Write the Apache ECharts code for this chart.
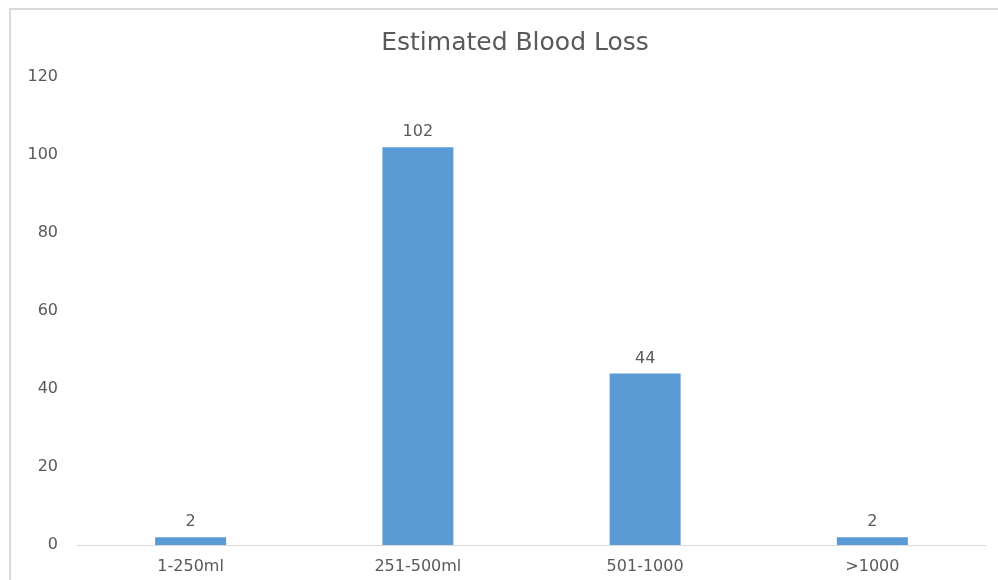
<!DOCTYPE html>
<html>
<head>
<meta charset="utf-8">
<style>
  html, body { margin: 0; padding: 0; background: #ffffff; }
  #chart { width: 998px; height: 580px; }
</style>
<script src="https://cdn.jsdelivr.net/npm/echarts@6/dist/echarts.min.js"></script>
</head>
<body>
<div id="chart"></div>
<script>
// Blood loss categories and patient counts
const categories = ['1-250ml', '251-500ml', '501-1000', '>1000'];
const counts = [2, 102, 44, 2];
const yTicks = { min: 0, max: 120, step: 20 };

const chart = echarts.init(document.getElementById('chart'), null, { renderer: 'canvas' });
const textColor = '#595959';
const fontFamily = '"DejaVu Sans", "Open Sans", sans-serif';

chart.setOption({
  backgroundColor: '#ffffff',
  animation: false,
  graphic: [{
    type: 'rect',
    shape: { x: 10, y: 9, width: 1000, height: 600 },
    style: { fill: 'none', stroke: '#d9d9d9', lineWidth: 2 },
    silent: true,
    z: -1
  }],
  title: {
    text: 'Estimated Blood Loss',
    left: 510,
    textAlign: 'center',
    top: 26,
    textStyle: { color: textColor, fontSize: 25, fontWeight: 'normal', fontFamily: fontFamily }
  },
  grid: { left: 77, right: 12, top: 77, bottom: 35, containLabel: false },
  xAxis: {
    type: 'category',
    data: categories,
    axisLine: { lineStyle: { color: '#d9d9d9', width: 1 } },
    axisTick: { show: false },
    axisLabel: { color: textColor, fontSize: 16, fontFamily: fontFamily, margin: 14 }
  },
  yAxis: {
    type: 'value',
    min: yTicks.min,
    max: yTicks.max,
    interval: yTicks.step,
    axisLine: { show: false },
    axisTick: { show: false },
    splitLine: { show: false },
    axisLabel: { color: textColor, fontSize: 16, fontFamily: fontFamily, margin: 19 }
  },
  series: [{
    type: 'bar',
    data: counts,
    barWidth: 71,
    itemStyle: { color: '#5b9bd5' },
    label: {
      show: true,
      position: 'top',
      distance: 7,
      color: textColor,
      fontSize: 16,
      fontFamily: fontFamily
    }
  }]
});
</script>
</body>
</html>
